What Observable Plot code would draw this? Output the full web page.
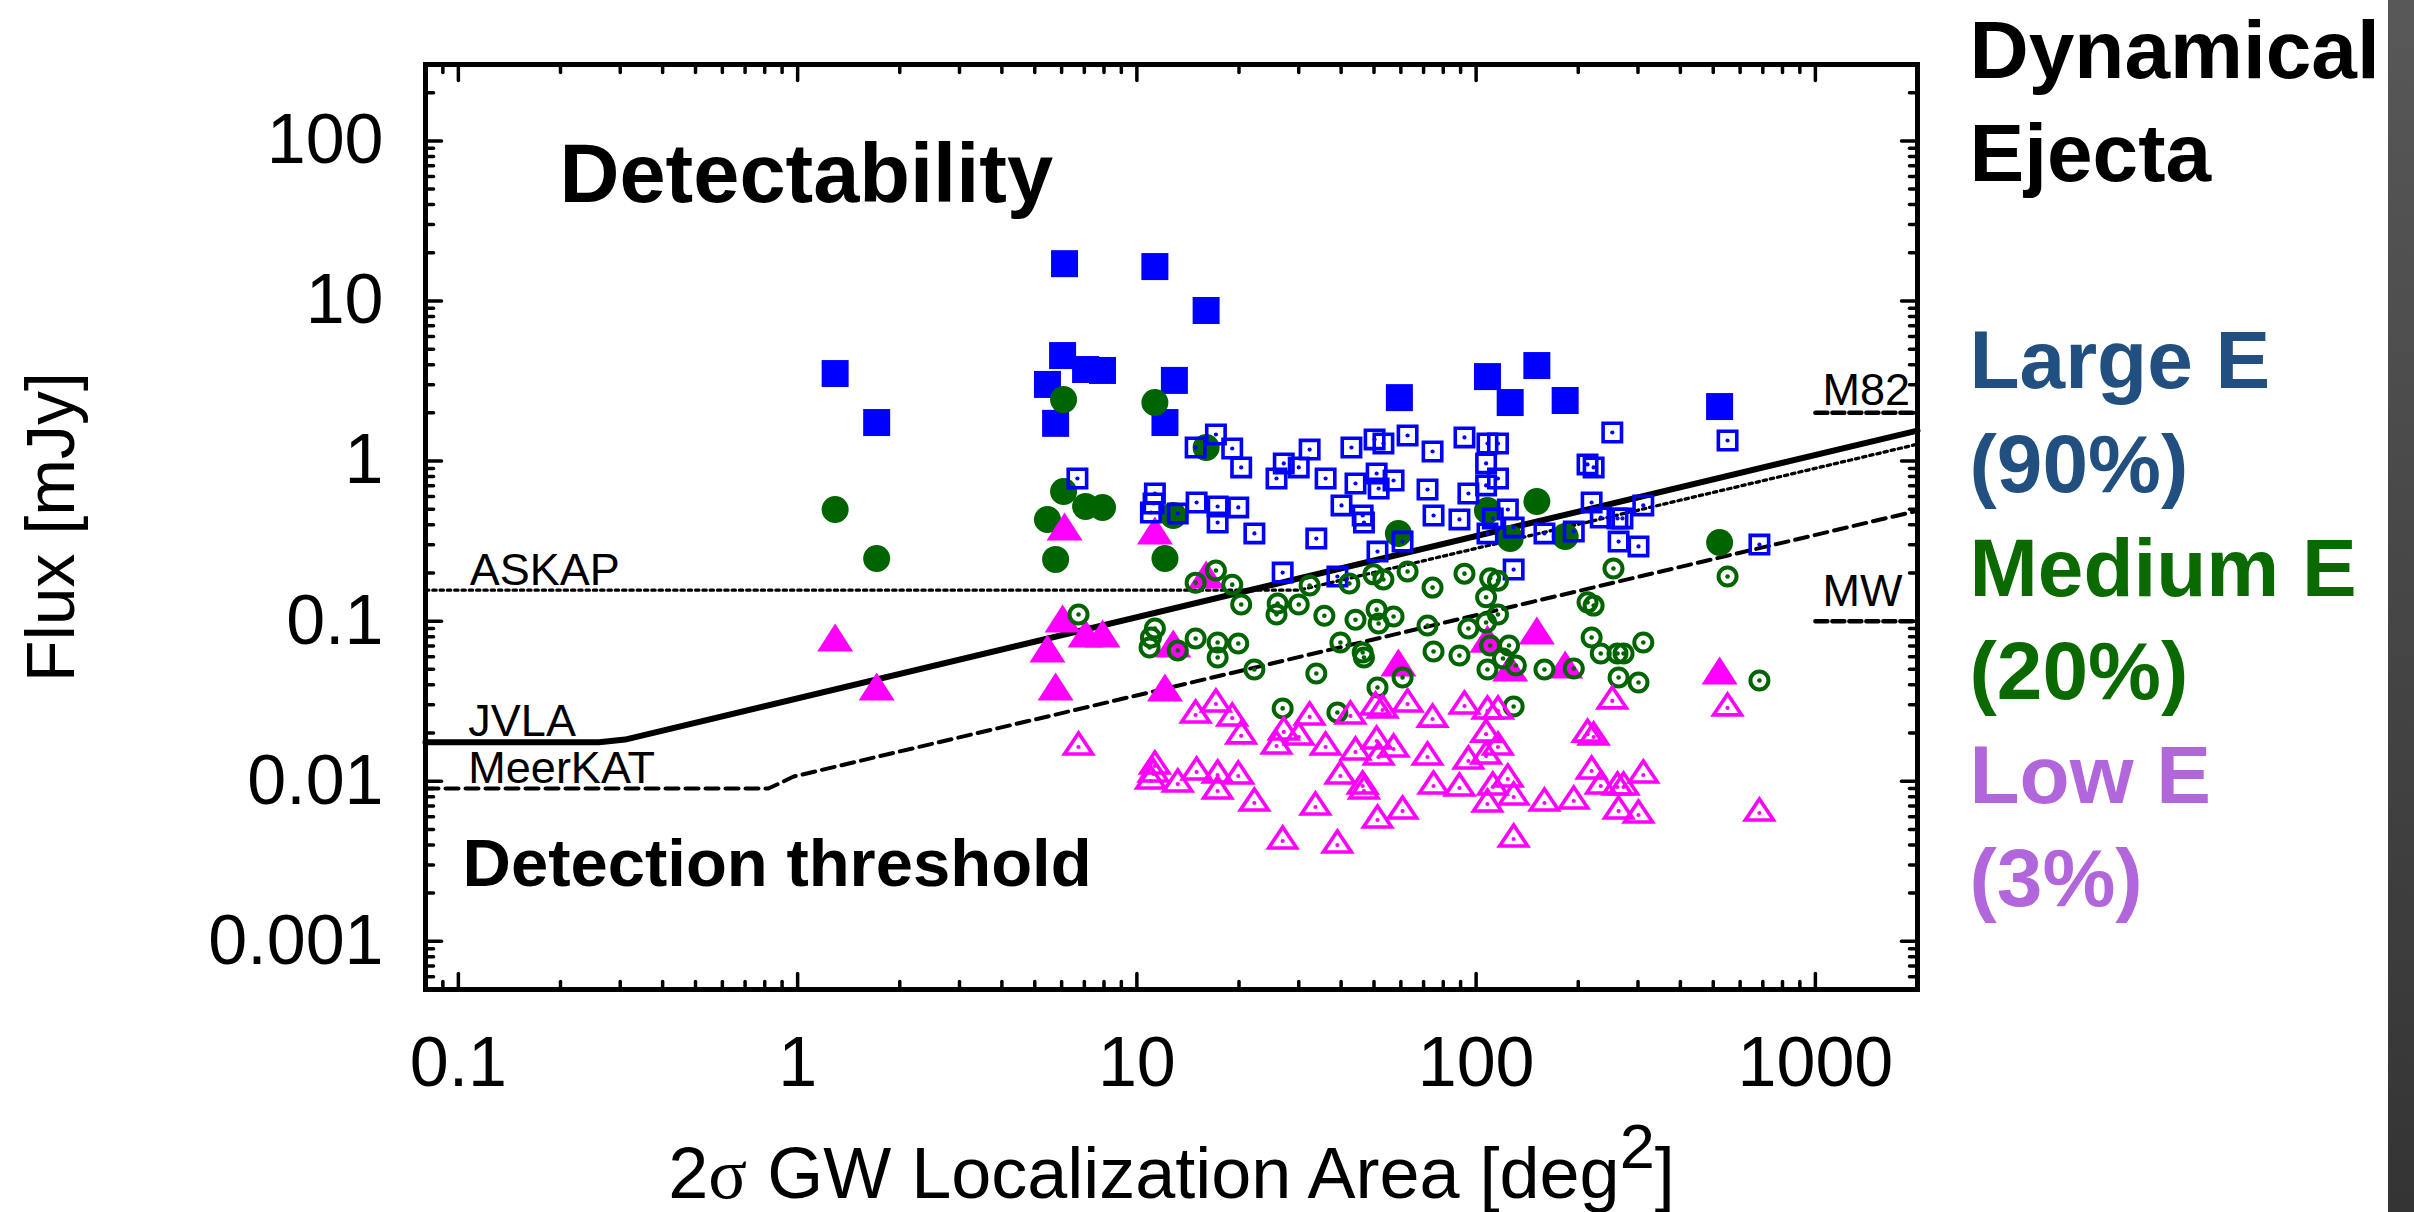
<!DOCTYPE html>
<html>
<head>
<meta charset="utf-8">
<script src="https://cdn.jsdelivr.net/npm/d3@7"></script>
<script src="https://cdn.jsdelivr.net/npm/@observablehq/plot@0.6"></script>
<style>
  html, body { margin: 0; padding: 0; background: #fff; }
  #wrap { position: relative; width: 2414px; height: 1212px; overflow: hidden; background: #fff; }
  #wrap svg { position: absolute; left: 0; top: 0; }
  #edge { position: absolute; left: 2388px; top: 0; width: 26px; height: 1212px; background: linear-gradient(to bottom, #585858, #343434); }
</style>
</head>
<body>
<div id="wrap"><div id="edge"></div></div>
<script>
// ---------- tick values and labels ----------
const xMajor = [0.1, 1, 10, 100, 1000];
const xMajorLabels = ["0.1", "1", "10", "100", "1000"];
const xMinor = [0.09, 0.2, 0.3, 0.4, 0.5, 0.6, 0.7, 0.8, 0.9, 2, 3, 4, 5, 6, 7, 8, 9,
  20, 30, 40, 50, 60, 70, 80, 90, 200, 300, 400, 500, 600, 700, 800, 900];
const yMajor = [0.001, 0.01, 0.1, 1, 10, 100];
const yMajorLabels = ["0.001", "0.01", "0.1", "1", "10", "100"];
const yMinor = [0.0006, 0.0007, 0.0008, 0.0009,
  0.002, 0.003, 0.004, 0.005, 0.006, 0.007, 0.008, 0.009,
  0.02, 0.03, 0.04, 0.05, 0.06, 0.07, 0.08, 0.09,
  0.2, 0.3, 0.4, 0.5, 0.6, 0.7, 0.8, 0.9,
  2, 3, 4, 5, 6, 7, 8, 9,
  20, 30, 40, 50, 60, 70, 80, 90, 200];

// ---------- series: [area deg^2, flux mJy] ----------
const largeFilled = [[1.29,3.52],[1.71,1.74],[6.12,17.1],[11.3,16.4],[16.0,8.72],[6.04,4.56],[7.06,3.73],[7.92,3.68],[5.45,3.01],[12.9,3.19],[5.76,1.72],[12.1,1.74],[59.4,2.49],[108,3.37],[151,3.95],[126,2.32],[183,2.39],[522,2.19]];
const mediumFilled = [[1.29,0.498],[1.71,0.246],[6.08,2.42],[11.3,2.32],[16.0,1.215],[6.08,0.645],[7.06,0.520],[7.92,0.513],[5.45,0.431],[5.76,0.243],[12.1,0.246],[12.8,0.457],[59.0,0.353],[108,0.491],[151,0.559],[126,0.328],[183,0.338],[522,0.310]];
const lowFilled = [[1.29,0.0791],[1.71,0.0391],[6.12,0.390],[11.3,0.368],[6.04,0.1039],[5.45,0.0675],[5.76,0.0391],[7.06,0.0837],[7.92,0.0837],[12.1,0.0385],[12.8,0.0725],[16.0,0.1956],[59.0,0.0552],[108,0.0775],[151,0.0874],[126,0.0513],[183,0.0536],[522,0.0492]];

const largeOpen = [[6.68,0.778],[14.9,1.215],[17.1,1.465],[19.1,1.198],[20.3,0.912],[11.3,0.627],[11.2,0.543],[11.0,0.477],[15.0,0.551],[17.3,0.520],[19.9,0.513],[13.2,0.470],[17.3,0.413],[22.2,0.353],[32.3,1.18],[27.1,0.966],[30.0,0.912],[25.8,0.778],[36.0,0.778],[42.9,1.215],[50.2,1.364],[53.3,1.287],[62.8,1.444],[74.4,1.147],[92.4,1.404],[44.1,0.724],[50.9,0.836],[57.1,0.756],[51.6,0.674],[40.1,0.528],[46.3,0.457],[46.7,0.413],[71.9,0.664],[94.9,0.627],[74.9,0.457],[89.3,0.432],[33.8,0.328],[51.2,0.272],[60.7,0.314],[26.9,0.201],[39.0,0.190],[252,1.508],[551,1.344],[108,1.287],[116,1.287],[107,0.966],[116,0.778],[107,0.704],[213,0.952],[222,0.912],[219,0.551],[311,0.528],[233,0.444],[261,0.438],[270,0.438],[263,0.314],[301,0.293],[159,0.353],[194,0.363],[129,0.210],[684,0.301],[124,0.498],[112,0.438],[129,0.385],[108,0.353]];
const mediumOpen = [[17.1,0.207],[14.9,0.174],[19.1,0.169],[20.3,0.127],[32.3,0.167],[42.3,0.172],[49.8,0.196],[53.3,0.182],[62.8,0.204],[74.4,0.162],[92.4,0.198],[26.0,0.129],[30.0,0.127],[25.8,0.110],[110,0.185],[116,0.179],[107,0.141],[254,0.213],[551,0.190],[213,0.131],[222,0.125],[6.73,0.110],[11.3,0.0900],[11.0,0.0791],[10.9,0.0685],[13.2,0.0656],[14.9,0.0779],[17.3,0.0736],[19.9,0.0725],[17.3,0.0593],[22.2,0.0499],[35.7,0.108],[44.1,0.102],[50.9,0.118],[57.1,0.107],[51.6,0.0967],[39.8,0.0736],[46.3,0.0637],[46.7,0.0593],[71.9,0.0939],[94.9,0.0900],[74.9,0.0646],[89.3,0.0610],[33.8,0.0471],[51.2,0.0385],[60.7,0.0445],[26.9,0.0285],[39.0,0.0269],[116,0.110],[107,0.0981],[110,0.0705],[125,0.0705],[120,0.0584],[131,0.0528],[108,0.0499],[159,0.0499],[194,0.0506],[219,0.0791],[311,0.0736],[233,0.0628],[261,0.0628],[272,0.0628],[263,0.0445],[301,0.0414],[129,0.0293],[684,0.0426]];
const lowOpen = [[6.73,0.01721],[14.9,0.02727],[17.1,0.0319],[19.1,0.0261],[20.3,0.0202],[11.3,0.0131],[11.2,0.01167],[11.0,0.01055],[15.0,0.01201],[17.3,0.0115],[19.9,0.01134],[13.2,0.0101],[17.3,0.00914],[22.2,0.00769],[32.3,0.0265],[27.1,0.02136],[30.0,0.01987],[25.8,0.01746],[36.0,0.01721],[42.6,0.0269],[50.5,0.0306],[53.0,0.0293],[62.8,0.0319],[74.4,0.0257],[92.4,0.0310],[44.1,0.0160],[50.9,0.01875],[57.1,0.01672],[51.6,0.0149],[39.8,0.01134],[46.3,0.00982],[46.7,0.00914],[71.9,0.0149],[94.9,0.01407],[74.9,0.00982],[89.3,0.00954],[33.6,0.00726],[51.2,0.00602],[60.7,0.00685],[26.9,0.00445],[39.0,0.00420],[252,0.0334],[551,0.0302],[108,0.0289],[116,0.0289],[107,0.0207],[116,0.01721],[107,0.0151],[213,0.0207],[222,0.01987],[219,0.01218],[311,0.0115],[233,0.00982],[261,0.00968],[272,0.00968],[263,0.00685],[301,0.00647],[159,0.00769],[194,0.00791],[129,0.00458],[684,0.00666],[124,0.01086],[112,0.00968],[129,0.00838],[108,0.00758]];

// ---------- instrument thresholds and reference levels ----------
const jvla = [[0.08,0.0175],[0.26,0.0175],[0.31,0.0182],[2000,1.55]];
const meerkat = [[0.08,0.009],[0.82,0.009],[0.974,0.0107],[2000,0.489]];
const askap = [[0.08,0.156],[30,0.156],[2000,1.274]];
const m82 = [[1000,2.0],[2000,2.0]];
const mw = [[1000,0.1],[2000,0.1]];
const lineLabels = [
  {name: "ASKAP", area: 0.108, flux: 0.169},
  {name: "JVLA", area: 0.107, flux: 0.0193},
  {name: "MeerKAT", area: 0.107, flux: 0.0098},
  {name: "M82", area: 1050, flux: 2.25},
  {name: "MW", area: 1050, flux: 0.1235}
];
const legendLines = ["Dynamical", "Ejecta", "", "Large E", "(90%)", "Medium E", "(20%)", "Low E", "(3%)"];
const legendColors = ["#000000", "#000000", null, "#214f80", "#214f80", "#0a6a00", "#0a6a00", "#b266dc", "#b266dc"];
const xTitle = "2σ GW Localization Area [deg2]";
const yTitle = "Flux [mJy]";

// ---------- styles ----------
const BLUE = "#0000ff", GREEN = "#006400", MAGENTA = "#ff00ff";
const X = d => d[0], Y = d => d[1];
const sqFilled = {draw(c) { const s = 13.5; c.moveTo(-s, -s); c.lineTo(s, -s); c.lineTo(s, s); c.lineTo(-s, s); c.closePath(); }};
const sqOpen = {draw(c) { const s = 9.2; c.moveTo(-s, -s); c.lineTo(s, -s); c.lineTo(s, s); c.lineTo(-s, s); c.closePath(); }};
const triFilled = {draw(c) { c.moveTo(0, -14); c.lineTo(18, 14); c.lineTo(-18, 14); c.closePath(); }};
const triOpen = {draw(c) { c.moveTo(0, -10.5); c.lineTo(14, 10.5); c.lineTo(-14, 10.5); c.closePath(); }};
const tickShape = {draw(c, l) { c.moveTo(0, 0); c.lineTo(0, -l); }};

function ticksX(values, len, anchor) {
  return Plot.vector(values, {x: d => d, frameAnchor: anchor, length: len, rotate: anchor === "bottom" ? 0 : 180,
    anchor: "start", shape: tickShape, stroke: "black", strokeWidth: 3.5});
}
function ticksY(values, len, anchor) {
  return Plot.vector(values, {y: d => d, frameAnchor: anchor, length: len, rotate: anchor === "left" ? 90 : -90,
    anchor: "start", shape: tickShape, stroke: "black", strokeWidth: 3.5});
}

const legendMarks = legendLines.map((line, i) => line ? Plot.text([line], {
  frameAnchor: "top-right", dx: 52, dy: 13 + 103.6 * i, textAnchor: "start", lineAnchor: "bottom",
  fontSize: 82, fontWeight: "bold", fill: legendColors[i]
}) : null).filter(Boolean);

const svg = Plot.plot({
  width: 2414, height: 1212,
  marginLeft: 425, marginRight: 497, marginTop: 64, marginBottom: 223,
  style: {fontFamily: "'Liberation Sans', Arial, Helvetica, sans-serif", color: "black", background: "white"},
  x: {type: "log", domain: [0.08, 2000]},
  y: {type: "log", domain: [0.0005, 300]},
  marks: [
    Plot.line(askap, {x: X, y: Y, stroke: "black", strokeWidth: 3.3, strokeDasharray: "3.3,4"}),
    Plot.line(meerkat, {x: X, y: Y, stroke: "black", strokeWidth: 4, strokeDasharray: "13,7"}),
    Plot.line(jvla, {x: X, y: Y, stroke: "black", strokeWidth: 6}),
    Plot.line(m82, {x: X, y: Y, stroke: "black", strokeWidth: 4.5, strokeDasharray: "12,5"}),
    Plot.line(mw, {x: X, y: Y, stroke: "black", strokeWidth: 4.5, strokeDasharray: "12,5"}),
    Plot.text(lineLabels, {x: "area", y: "flux", text: "name", textAnchor: "start", lineAnchor: "bottom", fontSize: 45, fill: "black"}),
    Plot.text(["Detectability"], {frameAnchor: "top-left", dx: 134, dy: 137.5, textAnchor: "start", lineAnchor: "bottom", fontSize: 83, fontWeight: "bold", fill: "black"}),
    Plot.text(["Detection threshold"], {frameAnchor: "bottom-left", dx: 37, dy: -104, textAnchor: "start", lineAnchor: "bottom", fontSize: 67, fontWeight: "bold", fill: "black"}),

    Plot.dot(largeFilled, {x: X, y: Y, symbol: sqFilled, fill: BLUE}),
    Plot.dot(mediumFilled, {x: X, y: Y, r: 13.5, fill: GREEN}),
    Plot.dot(lowFilled, {x: X, y: Y, symbol: triFilled, fill: MAGENTA}),

    Plot.dot(largeOpen, {x: X, y: Y, symbol: sqOpen, fill: "none", stroke: BLUE, strokeWidth: 3.6}),
    Plot.dot(largeOpen, {x: X, y: Y, r: 2.1, fill: BLUE}),
    Plot.dot(mediumOpen, {x: X, y: Y, r: 9, fill: "none", stroke: GREEN, strokeWidth: 4}),
    Plot.dot(mediumOpen, {x: X, y: Y, r: 2.3, fill: GREEN}),
    Plot.dot(lowOpen, {x: X, y: Y, symbol: triOpen, fill: "none", stroke: MAGENTA, strokeWidth: 3.6, strokeLinejoin: "miter"}),
    Plot.dot(lowOpen, {x: X, y: Y, r: 2.1, dy: 3.5, fill: MAGENTA}),

    ticksX(xMajor, 16, "bottom"), ticksX(xMinor, 8, "bottom"),
    ticksX(xMajor, 16, "top"), ticksX(xMinor, 8, "top"),
    ticksY(yMajor, 16, "left"), ticksY(yMinor, 8, "left"),
    ticksY(yMajor, 16, "right"), ticksY(yMinor, 8, "right"),
    Plot.frame({stroke: "black", strokeWidth: 5}),

    Plot.axisX(xMajor, {anchor: "bottom", tickSize: 0, tickPadding: 47, fontSize: 70, label: null,
      tickFormat: d => xMajorLabels[xMajor.indexOf(d)]}),
    Plot.axisY(yMajor, {anchor: "left", tickSize: 0, tickPadding: 42, fontSize: 70, label: null,
      tickFormat: d => yMajorLabels[yMajor.indexOf(d)]}),
    Plot.text([yTitle], {frameAnchor: "left", dx: -373, rotate: -90, fontSize: 68, textAnchor: "middle", lineAnchor: "middle", fill: "black"}),
    Plot.text([xTitle], {frameAnchor: "bottom", dy: 208, fontSize: 72, textAnchor: "middle", lineAnchor: "bottom", fill: "black"}),
    ...legendMarks
  ]
});

// superscript in the x-axis title
const NS = "http://www.w3.org/2000/svg";
for (const t of svg.querySelectorAll("text")) {
  if (t.textContent === xTitle) {
    t.textContent = "";
    const parts = [["2", {}], ["σ", {"font-family": "'Liberation Serif', 'DejaVu Serif', serif"}],
      [" GW Localization Area [deg", {}], ["2", {dy: -30, "font-size": 63}], ["]", {dy: 30}]];
    for (const [s, attrs] of parts) {
      const ts = document.createElementNS(NS, "tspan");
      for (const k in attrs) ts.setAttribute(k, attrs[k]);
      ts.textContent = s;
      t.appendChild(ts);
    }
  }
}

const wrap = document.getElementById("wrap");
wrap.insertBefore(svg, document.getElementById("edge"));
</script>
</body>
</html>
